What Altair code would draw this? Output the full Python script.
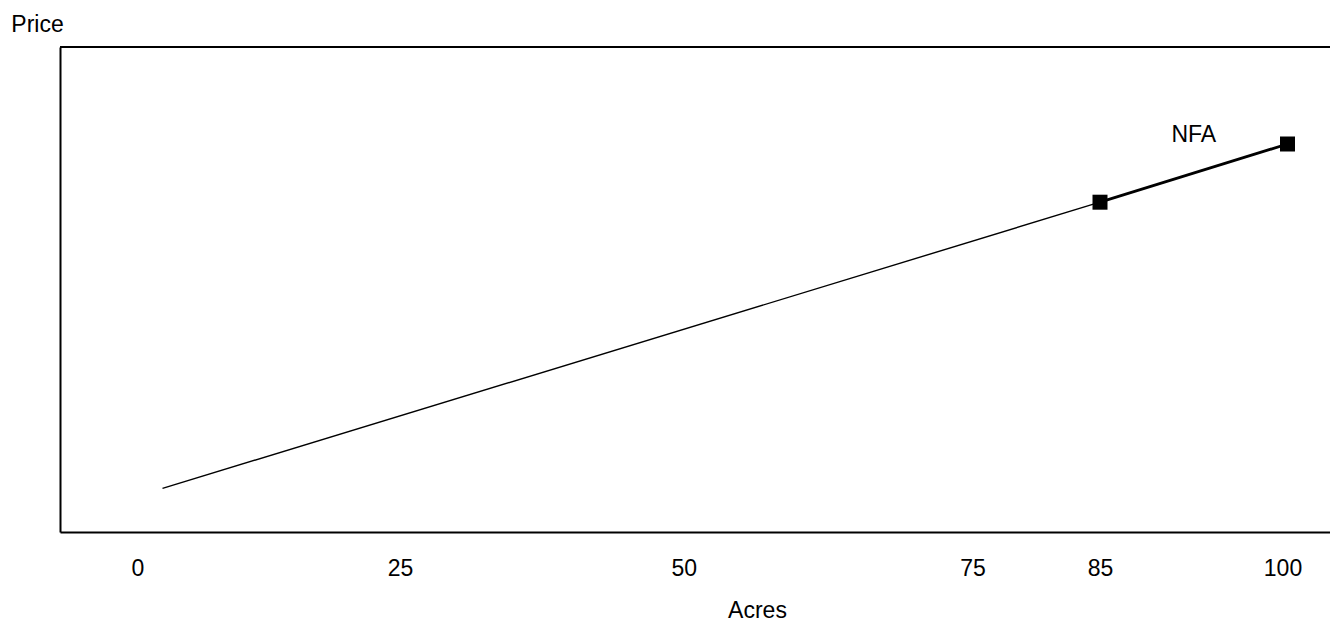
import json
import altair as alt
import pandas as pd

# ---- data ----
acres = [10, 85, 100]
price = [9, 68, 80]
marker_acres = [85, 100]
marker_price = [68, 80]
tick_labels = ["0", "25", "50", "75", "85", "100"]
tick_at = [8.0, 29.0, 51.7, 74.8, 85.0, 99.6]
note_text = ["NFA"]
note_acres = [92.5]
note_price = [81.9]

FONT = "Liberation Sans"
FS = 23
W = 1270
H = 485

line_df = pd.DataFrame({"acres": acres, "price": price})
thin_df = line_df.iloc[0:2]
thick_df = line_df.iloc[1:3]
marker_df = pd.DataFrame({"acres": marker_acres, "price": marker_price})
note_df = pd.DataFrame({"acres": note_acres, "price": note_price, "text": note_text})

label_expr = f"{json.dumps(tick_labels)}[indexof({json.dumps(tick_at)}, datum.value)]"

x_enc = alt.X(
    "acres:Q",
    scale=alt.Scale(domain=[1.8, 1.8 + W / 12.5], nice=False, zero=False),
    axis=alt.Axis(
        values=tick_at,
        labelExpr=label_expr,
        domain=True,
        domainColor="black",
        domainWidth=2,
        ticks=False,
        tickSize=0,
        grid=False,
        labelPadding=43,
        labelBaseline="alphabetic",
        labelFlush=False,
        labelOverlap=False,
        labelFont=FONT,
        labelFontSize=FS,
        labelColor="black",
        title="Acres",
        titleFont=FONT,
        titleFontSize=FS,
        titleFontWeight="normal",
        titleColor="black",
        titleX=697,
        titleY=85,
        titleAlign="center",
        titleBaseline="alphabetic",
    ),
)
y_enc = alt.Y(
    "price:Q",
    scale=alt.Scale(domain=[0, 100], nice=False, zero=False),
    axis=alt.Axis(
        labels=False,
        ticks=False,
        domain=True,
        domainColor="black",
        domainWidth=2,
        grid=False,
        title="Price",
        titleAngle=0,
        titleX=-23,
        titleY=-15.3,
        titleAlign="center",
        titleBaseline="alphabetic",
        titleFont=FONT,
        titleFontSize=FS,
        titleFontWeight="normal",
        titleColor="black",
    ),
)

top_edge = alt.Chart(pd.DataFrame({"k": [0]})).mark_rule(color="black", strokeWidth=2).encode(
    x=alt.value(0), x2=alt.value(W), y=alt.value(0)
)
thin = alt.Chart(thin_df).mark_line(color="black", strokeWidth=1.4).encode(x=x_enc, y=y_enc)
thick = alt.Chart(thick_df).mark_line(color="black", strokeWidth=2.8).encode(x=x_enc, y=y_enc)
markers = alt.Chart(marker_df).mark_point(
    shape="square", filled=True, color="black", size=225, opacity=1
).encode(x=x_enc, y=y_enc)
note = alt.Chart(note_df).mark_text(
    font=FONT, fontSize=FS, color="black", align="center", baseline="middle"
).encode(x=x_enc, y=y_enc, text="text:N")

chart = (
    alt.layer(thin, thick, markers, note, top_edge)
    .properties(
        width=W,
        height=H,
        autosize=alt.AutoSizeParams(type="none"),
        padding={"left": 52, "top": 39, "right": 0, "bottom": 92},
        background="white",
    )
    .configure_view(stroke=None)
)

chart.save("out.html", embed_options={"renderer": "svg", "actions": False})
